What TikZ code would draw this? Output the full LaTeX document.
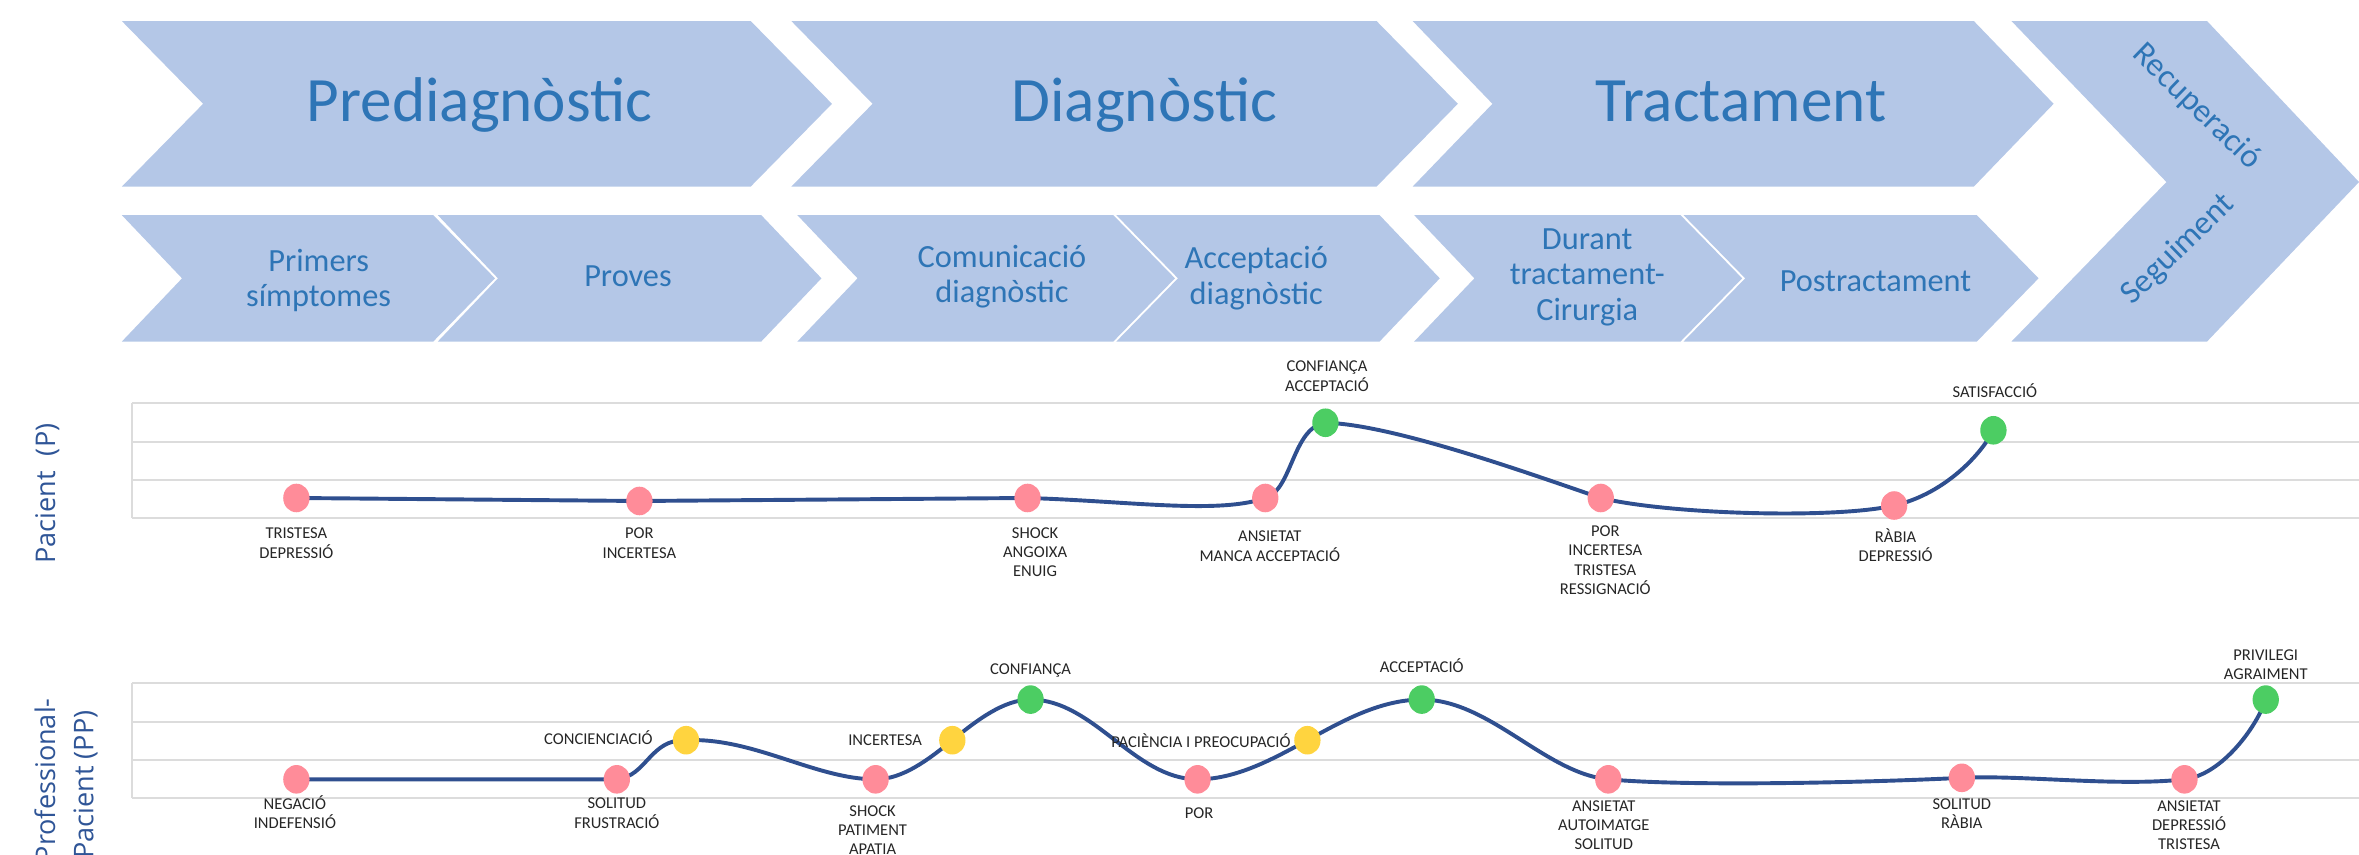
\documentclass[tikz,border=0pt]{standalone}
\usepackage{fontspec}
\setmainfont{Carlito}
\newfontfamily\axisfont{Open Sans}
\usetikzlibrary{shapes.geometric,backgrounds}
\definecolor{chevfill}{HTML}{B4C7E7}
\definecolor{chevtext}{HTML}{2E75B6}
\definecolor{axistext}{HTML}{2F5597}
\definecolor{curvecol}{HTML}{2F4F8F}
\definecolor{gridcol}{HTML}{DCDCDC}
\definecolor{pinkdot}{HTML}{FF8C99}
\definecolor{greendot}{HTML}{4CCD63}
\definecolor{yellowdot}{HTML}{FFD43F}
\definecolor{lbltext}{HTML}{262626}
\newcommand\lblstrut{\rule{0pt}{10pt}}
\newcommand\substrut{\rule{0pt}{18pt}}
\begin{document}
\begin{tikzpicture}[x=1pt,y=-1pt,
  chev/.style={fill=chevfill, draw=none},
  bigtxt/.style={text=chevtext, font=\fontsize{42}{46}\selectfont, inner sep=0pt, anchor=base},
  subtxt/.style={text=chevtext, font=\fontsize{21.5}{23.5}\selectfont, inner sep=0pt, align=center},
  axislbl/.style={text=axistext, font=\axisfont\fontsize{18}{22}\selectfont, inner sep=0pt, rotate=90, anchor=base east},
  gridline/.style={draw=gridcol, line width=1.3pt},
  emocurve/.style={draw=curvecol, line width=2.6pt, line cap=round},
  emodot/.style={ellipse, minimum width=17.5pt, minimum height=19pt, inner sep=0pt, draw=none},
  pk/.style={emodot, fill=pinkdot},
  gr/.style={emodot, fill=greendot},
  yl/.style={emodot, fill=yellowdot},
  lbl/.style={text=lbltext, font=\fontsize{11}{12.8}\selectfont, inner sep=0pt, align=center, anchor=north},
  lblone/.style={text=lbltext, font=\fontsize{11}{12.8}\selectfont, inner sep=0pt},
]
\useasboundingbox (0,0) rectangle (1568,568);
\clip (0,0) rectangle (1568,568);

% ---- top chevrons
\fill[chev] (81,14) -- (499,14) -- (553,69) -- (499,124) -- (81,124) -- (135,69) -- cycle;
\fill[chev] (526,14) -- (915,14) -- (969,69) -- (915,124) -- (526,124) -- (580,69) -- cycle;
\fill[chev] (939,14) -- (1312,14) -- (1365,69) -- (1312,124) -- (939,124) -- (992,69) -- cycle;
\fill[chev] (1337,14) -- (1467,14) -- (1568,121) -- (1467,227) -- (1337,227) -- (1440,121) -- cycle;
% ---- sub chevrons
\fill[chev] (81,143) -- (288,143) -- (329,185) -- (288,227) -- (81,227) -- (121,185) -- cycle;
\fill[chev] (291,143) -- (506,143) -- (546,185) -- (506,227) -- (291,227) -- (331,185) -- cycle;
\fill[chev] (530,143) -- (740,143) -- (781,185) -- (740,227) -- (530,227) -- (570,185) -- cycle;
\fill[chev] (742,143) -- (917,143) -- (957,185) -- (917,227) -- (742,227) -- (783,185) -- cycle;
\fill[chev] (940,143) -- (1117,143) -- (1158,185) -- (1117,227) -- (940,227) -- (980,185) -- cycle;
\fill[chev] (1119,143) -- (1314,143) -- (1355,185) -- (1314,227) -- (1119,227) -- (1160,185) -- cycle;

\node[bigtxt] (tPre) at (318.7,81) {Prediagnòstic};
\node[bigtxt] (tDia) at (760.7,81) {Diagnòstic};
\node[bigtxt] (tTra) at (1157,81) {Tractament};
\node[text=chevtext, font=\fontsize{22}{24}\selectfont, inner sep=0pt, rotate=-44] (tRec) at (1460,71) {Recuperació};
\node[text=chevtext, font=\fontsize{22}{24}\selectfont, inner sep=0pt, rotate=44] (tSeg) at (1448,166) {Seguiment};

\node[subtxt, anchor=north] (sPri) at (211.8,162) {\substrut Primers\\símptomes};
\node[subtxt, anchor=base] (sPro) at (417.4,190.1) {Proves};
\node[subtxt, anchor=north] (sCom) at (666,159.3) {\substrut Comunicació\\diagnòstic};
\node[subtxt, anchor=north] (sAcc) at (835,160.4) {\substrut Acceptació\\diagnòstic};
\node[subtxt, anchor=north] (sDur) at (1055,147.7) {\substrut Durant\\tractament-\\Cirurgia};
\node[subtxt, anchor=base] (sPos) at (1246.6,193.9) {Postractament};

% ---- axis labels
\node[axislbl] (axP) at (36.6,281.4) {Pacient\hspace{10pt}(P)};
\node[axislbl] (axPP1) at (36.6,464) {Professional-};
\node[axislbl] (axPP2) at (62,472) {Pacient (PP)};

% ---- dots Pacient
\node[pk] (p1) at (197,331) {};
\node[pk] (p2) at (425,333) {};
\node[pk] (p3) at (683,331) {};
\node[pk] (p4) at (841,331) {};
\node[gr] (p5) at (881,281) {};
\node[pk] (p6) at (1064,331) {};
\node[pk] (p7) at (1259,336) {};
\node[gr] (p8) at (1325,286) {};
% ---- dots Professional-Pacient
\node[pk] (q1) at (197,518) {};
\node[pk] (q2) at (410,518) {};
\node[yl] (q3) at (456,492) {};
\node[pk] (q4) at (582,518) {};
\node[yl] (q5) at (633,492) {};
\node[gr] (q6) at (685,465) {};
\node[pk] (q7) at (796,518) {};
\node[yl] (q8) at (869,492) {};
\node[gr] (q9) at (945,465) {};
\node[pk] (q10) at (1069,518) {};
\node[pk] (q11) at (1304,517) {};
\node[pk] (q12) at (1452,518) {};
\node[gr] (q13) at (1506,465) {};

\begin{pgfonlayer}{background}
  % grids
  \draw[gridline] (88,268) -- (1568,268);
  \draw[gridline] (88,294) -- (1568,294);
  \draw[gridline] (88,319) -- (1568,319);
  \draw[gridline] (88,344.5) -- (1568,344.5);
  \draw[gridline] (88,268) -- (88,344.5);
  \draw[gridline] (88,454) -- (1568,454);
  \draw[gridline] (88,480) -- (1568,480);
  \draw[gridline] (88,505) -- (1568,505);
  \draw[gridline] (88,530.5) -- (1568,530.5);
  \draw[gridline] (88,454) -- (88,530.5);
  % curves
  \draw[emocurve] (p1.center) -- (p2.center) -- (p3.center)
    .. controls +(67,2) and +(-31,11) .. (p4.center)
    .. controls +(18,-5) and +(-22,3) .. (p5.center)
    .. controls +(45,1) and +(-44,-15) .. (p6.center)
    .. controls +(46,11) and +(-39,9) .. (p7.center)
    .. controls +(31,-7) and +(-10,19) .. (p8.center);
  \draw[emocurve] (q1.center) -- (q2.center)
    .. controls +(20,-2) and +(-24,-1) .. (q3.center)
    .. controls +(45,-2) and +(-40,0) .. (q4.center)
    .. controls +(18,0) and +(-16,13) .. (q5.center)
    .. controls +(16,-13) and +(-18,0) .. (q6.center)
    .. controls +(42,0) and +(-42,0) .. (q7.center)
    .. controls +(26,0) and +(-22,12) .. (q8.center)
    .. controls +(22,-12) and +(-28,0) .. (q9.center)
    .. controls +(45,0) and +(-42,-4) .. (q10.center)
    .. controls +(55,5) and +(-60,3) .. (q11.center)
    .. controls +(40,-2) and +(-45,5) .. (q12.center)
    .. controls +(25,-3) and +(-6,18) .. (q13.center);
\end{pgfonlayer}

% ---- labels Pacient
\node[lbl] (lp1) at (197,348) {\lblstrut TRISTESA\\DEPRESSIÓ};
\node[lbl] (lp2) at (425,348) {\lblstrut POR\\INCERTESA};
\node[lbl] (lp3) at (688,347.5) {\lblstrut SHOCK\\ANGOIXA\\ENUIG};
\node[lbl] (lp4) at (844,350) {\lblstrut ANSIETAT\\MANCA ACCEPTACIÓ};
\node[lbl] (lp5) at (882,237) {\lblstrut CONFIANÇA\\ACCEPTACIÓ};
\node[lbl] (lp6) at (1067,346.5) {\lblstrut POR\\INCERTESA\\TRISTESA\\RESSIGNACIÓ};
\node[lbl] (lp7) at (1260,350.5) {\lblstrut RÀBIA\\DEPRESSIÓ};
\node[lblone, anchor=base] (lp8) at (1326,264) {SATISFACCIÓ};
% ---- labels Professional-Pacient
\node[lbl] (lq1) at (196,528) {\lblstrut NEGACIÓ\\INDEFENSIÓ};
\node[lbl] (lq2) at (410,527.5) {\lblstrut SOLITUD\\FRUSTRACIÓ};
\node[lblone, anchor=base east] (lq3) at (434,495) {CONCIENCIACIÓ};
\node[lbl] (lq4) at (580,532.3) {\lblstrut SHOCK\\PATIMENT\\APATIA};
\node[lblone, anchor=base east] (lq5) at (613,495.4) {INCERTESA};
\node[lblone, anchor=base] (lq6) at (685,448.4) {CONFIANÇA};
\node[lblone, anchor=base] (lq7) at (797,544) {POR};
\node[lblone, anchor=base east] (lq8) at (858,497) {PACIÈNCIA I PREOCUPACIÓ};
\node[lblone, anchor=base] (lq9) at (945,447.3) {ACCEPTACIÓ};
\node[lbl] (lq10) at (1066,529) {\lblstrut ANSIETAT\\AUTOIMATGE\\SOLITUD};
\node[lbl] (lq11) at (1304,528) {\lblstrut SOLITUD\\RÀBIA};
\node[lbl] (lq12) at (1455,529) {\lblstrut ANSIETAT\\DEPRESSIÓ\\TRISTESA};
\node[lbl] (lq13) at (1506,428.5) {\lblstrut PRIVILEGI\\AGRAIMENT};
\end{tikzpicture}
\end{document}
